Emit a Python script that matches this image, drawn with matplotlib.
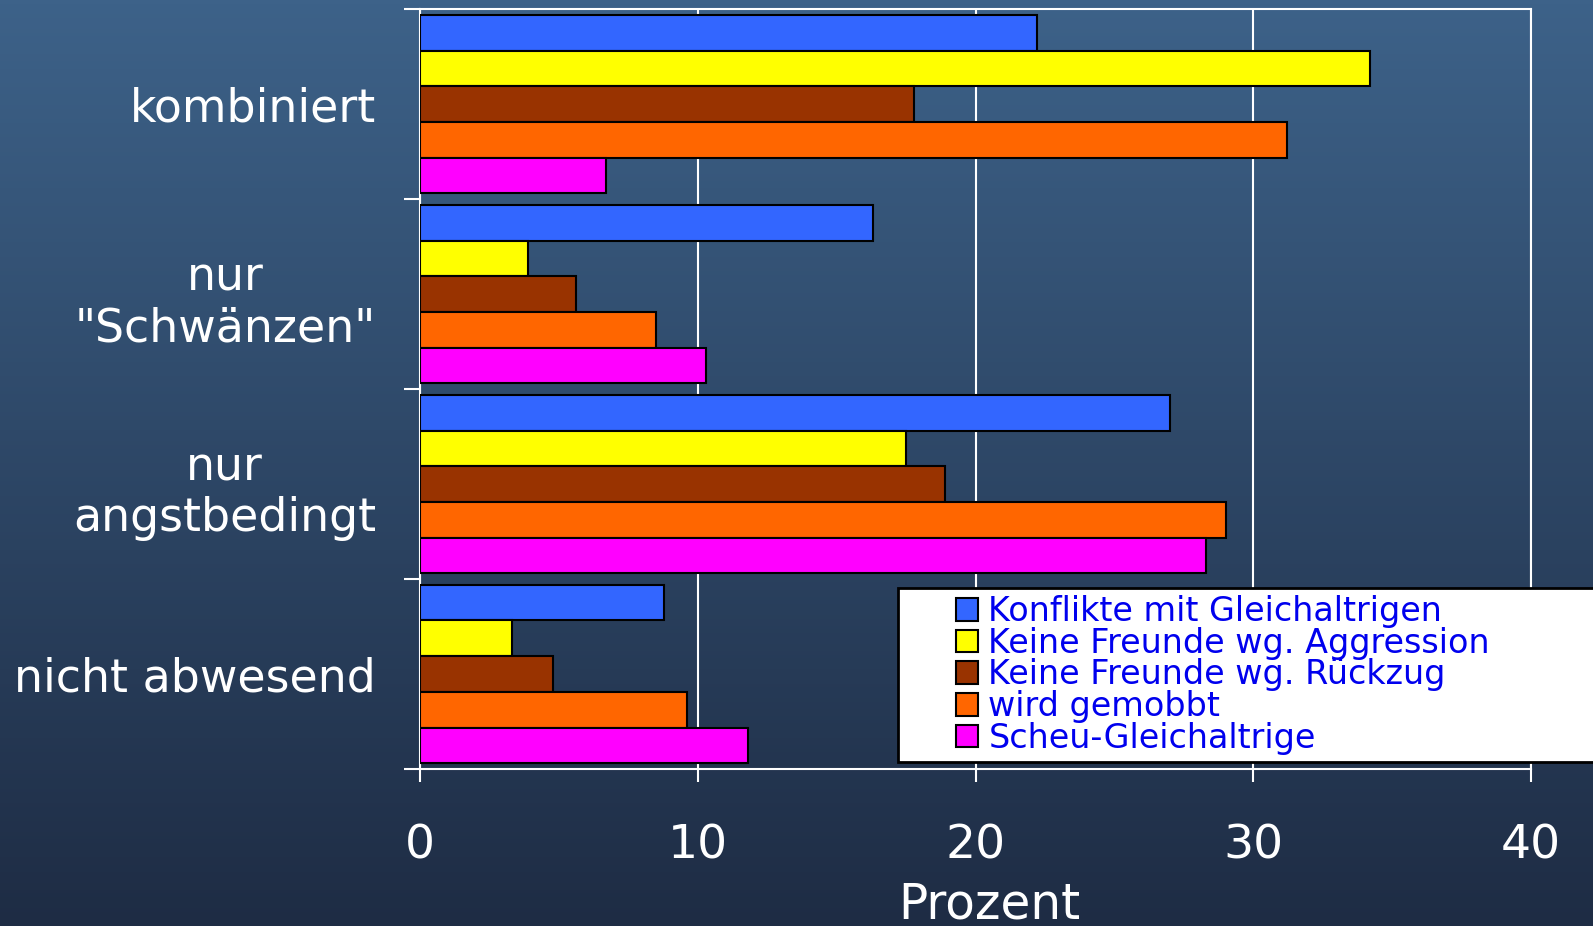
import numpy as np
import matplotlib
matplotlib.use('Agg')
import matplotlib.pyplot as plt
from matplotlib.colors import LinearSegmentedColormap
from matplotlib.patches import Rectangle

matplotlib.rcParams['font.family'] = ['DejaVu Sans']

# Daten
kategorien = ['kombiniert', 'nur\n"Schwänzen"', 'nur\nangstbedingt', 'nicht abwesend']
serien = ['Konflikte mit Gleichaltrigen', 'Keine Freunde wg. Aggression',
          'Keine Freunde wg. Rückzug', 'wird gemobbt', 'Scheu-Gleichaltrige']
konflikte = [22.2, 16.3, 27.0, 8.8]
aggression = [34.2, 3.9, 17.5, 3.3]
rueckzug = [17.8, 5.6, 18.9, 4.8]
gemobbt = [31.2, 8.5, 29.0, 9.6]
scheu = [6.7, 10.3, 28.3, 11.8]
xticks = [0, 10, 20, 30, 40]

werte = [konflikte, aggression, rueckzug, gemobbt, scheu]
farben = ['#3366ff', '#ffff00', '#993300', '#ff6600', '#ff00ff']

fig = plt.figure(figsize=(15.93, 9.26), dpi=100)

# Hintergrund mit Verlauf
bg = fig.add_axes([0, 0, 1, 1], zorder=-1)
cmap = LinearSegmentedColormap.from_list('bg', ['#1e2c44', '#3d6289'])
bg.imshow(np.linspace(0, 1, 256).reshape(-1, 1), cmap=cmap, aspect='auto',
          extent=[0, 1, 0, 1], origin='lower')
bg.axis('off')

ax = fig.add_axes([0.2637, 0.1695, 0.6974, 0.8206])
ax.set_facecolor('none')

h = 0.188
y = np.arange(len(kategorien))
handles = []
for j, (name, vals, col) in enumerate(zip(serien, werte, farben)):
    b = ax.barh(y + (j - 2) * h, vals, height=h, color=col, edgecolor='black',
                linewidth=1.5, label=name, zorder=3)
    handles.append(b)

ax.set_xlim(0, 40)
ax.set_ylim(3.5, -0.5)
ax.set_xticks(xticks)
ax.set_xticklabels([str(t) for t in xticks], fontsize=34, color='white')
ax.tick_params(axis='x', length=9.5, width=1.5, color='white', pad=30)

ax.set_yticks(np.arange(-0.5, 4, 1))
ax.set_yticklabels([])
ax.tick_params(axis='y', which='major', length=11.5, width=1.5, color='white')
ax.set_yticks(y, kategorien, minor=True, fontsize=33, color='white',
              ha='right', multialignment='center')
ax.tick_params(axis='y', which='minor', length=0, pad=31.7)

for s in ax.spines.values():
    s.set_color('white')
    s.set_linewidth(1.5)

ax.grid(axis='x', color='white', linewidth=1.5, zorder=0)
ax.set_axisbelow(True)

ax.set_xlabel('Prozent', fontsize=35, color='white')
ax.xaxis.set_label_coords(0.512, -0.197)
ax.xaxis.label.set_verticalalignment('baseline')

# Legende
fig.add_artist(Rectangle((0.5637, 0.177), 0.5, 0.188, transform=fig.transFigure,
                         facecolor='white', edgecolor='black', linewidth=2, zorder=4))
leg = fig.legend(handles=handles, loc='upper left', bbox_to_anchor=(0.6001, 0.3575),
                 frameon=False, fontsize=24, labelspacing=-0.04, handlelength=0.67,
                 handleheight=0.67, handletextpad=0.3, borderpad=0, borderaxespad=0)
for t in leg.get_texts():
    t.set_color('#0000ee')

fig.savefig('out.png', dpi=100)
